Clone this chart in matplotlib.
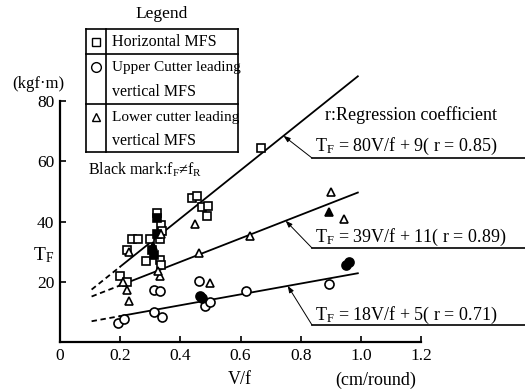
import matplotlib
matplotlib.use("Agg")
import matplotlib.pyplot as plt
import numpy as np

plt.rcParams['font.family'] = ['Liberation Serif', 'DejaVu Serif']
plt.rcParams['mathtext.fontset'] = 'custom'
plt.rcParams['mathtext.rm'] = 'Liberation Serif'
plt.rcParams['mathtext.it'] = 'Liberation Serif'

# ---- data ----
sq_open_v = [0.667, 0.44, 0.456, 0.472, 0.492, 0.489, 0.322, 0.337, 0.34, 0.298,
             0.239, 0.258, 0.333, 0.222, 0.286, 0.333, 0.337, 0.2, 0.222]
sq_open_T = [64.3, 47.7, 48.6, 44.9, 45.3, 41.8, 42.9, 38.8, 37.0, 34.2,
             34.2, 34.2, 34.2, 30.7, 26.8, 27.1, 25.4, 21.8, 19.8]
sq_black_v = [0.322, 0.322, 0.306, 0.311]
sq_black_T = [41.2, 35.7, 30.7, 29.0]

tri_open_v = [0.45, 0.633, 0.461, 0.5, 0.333, 0.326, 0.222, 0.228, 0.211, 0.337, 0.9, 0.944, 0.228]
tri_open_T = [39.3, 35.3, 29.6, 19.5, 21.8, 23.5, 17.3, 13.7, 20.0, 36.0, 49.8, 40.7, 30.0]
tri_black_v = [0.894, 0.31]
tri_black_T = [43.2, 32.0]

circ_open_v = [0.461, 0.311, 0.333, 0.617, 0.483, 0.5, 0.311, 0.339, 0.194, 0.214, 0.894]
circ_open_T = [20.4, 17.3, 16.8, 17.0, 12.0, 13.4, 10.1, 8.2, 6.4, 7.8, 19.3]
circ_black_v = [0.464, 0.472, 0.95, 0.961]
circ_black_T = [15.4, 14.5, 25.7, 26.4]

slopes = [80, 39, 18]
intercepts = [9, 11, 5]
r_values = [0.85, 0.89, 0.71]
dash_range = [0.105, 0.2]
solid_range = [0.2, 0.99]

x_ticks = [0, 0.2, 0.4, 0.6, 0.8, 1.0, 1.2]
x_ticklabels = ['0', '0.2', '0.4', '0.6', '0.8', '1.0', '1.2']
y_ticks = [20, 40, 60, 80]

W, H = 525, 390
fig = plt.figure(figsize=(W / 100, H / 100), dpi=100)
ax = fig.add_axes([60 / W, 1 - 342 / H, (421 - 60) / W, (342 - 101) / H])
ax.set_xlim(0, 1.2)
ax.set_ylim(0, 80)
for s in ['top', 'right']:
    ax.spines[s].set_visible(False)
ax.spines['left'].set_linewidth(1.6)
ax.spines['bottom'].set_linewidth(1.6)
ax.set_xticks(x_ticks)
ax.set_xticklabels(x_ticklabels)
ax.set_yticks(y_ticks)
ax.tick_params(direction='in', length=4, width=1.2, labelsize=12.5, pad=4)

# regression lines
for a, b in zip(slopes, intercepts):
    xd = np.array(dash_range)
    ax.plot(xd, a * xd + b, color='black', lw=1.3, ls=(0, (3, 2)), clip_on=False)
    xs = np.array(solid_range)
    ax.plot(xs, a * xs + b, color='black', lw=1.3, clip_on=False)

ms = 5.5
kw = dict(ls='none', mec='black', mew=1.2)
ax.plot(sq_open_v, sq_open_T, marker='s', mfc='white', ms=ms, **kw)
ax.plot(sq_black_v, sq_black_T, marker='s', mfc='black', ms=ms, **kw)
ax.plot(tri_open_v, tri_open_T, marker='^', mfc='white', ms=ms, **kw)
ax.plot(tri_black_v, tri_black_T, marker='^', mfc='black', ms=ms, **kw)
ax.plot(circ_open_v, circ_open_T, marker='o', mfc='white', ms=ms + 1, **kw)
ax.plot(circ_black_v, circ_black_T, marker='o', mfc='black', ms=ms + 1, **kw)


def fx(x):
    return x / W


def fy(y):
    return 1 - y / H


eq_text_y = [146, 237, 315]
eq_line_y = [158, 248, 325]
eq_anchor_v = [0.743, 0.75, 0.757]
for a, b, r, ty, ly, av in zip(slopes, intercepts, r_values, eq_text_y, eq_line_y, eq_anchor_v):
    ay = a * av + b
    ax.annotate('', xy=(av, ay), xycoords='data',
                xytext=(fx(312), fy(ly)), textcoords='figure fraction',
                arrowprops=dict(arrowstyle='-|>,head_length=0.4,head_width=0.15',
                                color='black', lw=0.7, shrinkA=0, shrinkB=0))
    fig.add_artist(plt.Line2D([fx(312), fx(525)], [fy(ly), fy(ly)], color='black', lw=1.2))
    fig.text(fx(315), fy(ty), r'T$_\mathrm{F}$ = %dV/f + %d( r = %.2f)' % (a, b, r),
             fontsize=13, va='center', ha='left')

fig.text(fx(325), fy(115), 'r:Regression coefficient', fontsize=13, va='center', ha='left')

# legend table
lx0, lx1, lxs = 86, 238, 106
ly0, ly1, ly2, ly3 = 29, 54, 104, 152
lw_ = 1.2
for (xa, ya, xb, yb) in [(lx0, ly0, lx1, ly0), (lx0, ly3, lx1, ly3), (lx0, ly0, lx0, ly3),
                         (lx1, ly0, lx1, ly3), (lxs, ly0, lxs, ly3),
                         (lx0, ly1, lx1, ly1), (lx0, ly2, lx1, ly2)]:
    fig.add_artist(plt.Line2D([fx(xa), fx(xb)], [fy(ya), fy(yb)], color='black', lw=lw_))
fig.text(fx(162), fy(14), 'Legend', fontsize=12.5, ha='center', va='center')
fig.add_artist(plt.Line2D([fx(96)], [fy(42)], marker='s', mfc='white', mec='black', ms=6, mew=1))
fig.add_artist(plt.Line2D([fx(96)], [fy(67)], marker='o', mfc='white', mec='black', ms=7, mew=1))
fig.add_artist(plt.Line2D([fx(96)], [fy(117)], marker='^', mfc='white', mec='black', ms=6, mew=1))
fig.text(fx(112), fy(42), 'Horizontal MFS', fontsize=11.5, va='center')
fig.text(fx(112), fy(68), 'Upper Cutter leading', fontsize=11, va='center')
fig.text(fx(112), fy(92), 'vertical MFS', fontsize=11.5, va='center')
fig.text(fx(112), fy(117), 'Lower cutter leading', fontsize=11, va='center')
fig.text(fx(112), fy(141), 'vertical MFS', fontsize=11.5, va='center')

fig.text(fx(88), fy(170), r'Black mark:f$_\mathrm{F}$≠f$_\mathrm{R}$', fontsize=11.5, va='center')
fig.text(fx(38), fy(84), '(kgf·m)', fontsize=12, va='center', ha='center')
fig.text(fx(44), fy(255), r'T$_\mathrm{F}$', fontsize=14, va='center', ha='center')
fig.text(fx(240), fy(380), 'V/f', fontsize=13, ha='center', va='center')
fig.text(fx(376), fy(380), '(cm/round)', fontsize=13, ha='center', va='center')

fig.savefig('out.png', dpi=100)
